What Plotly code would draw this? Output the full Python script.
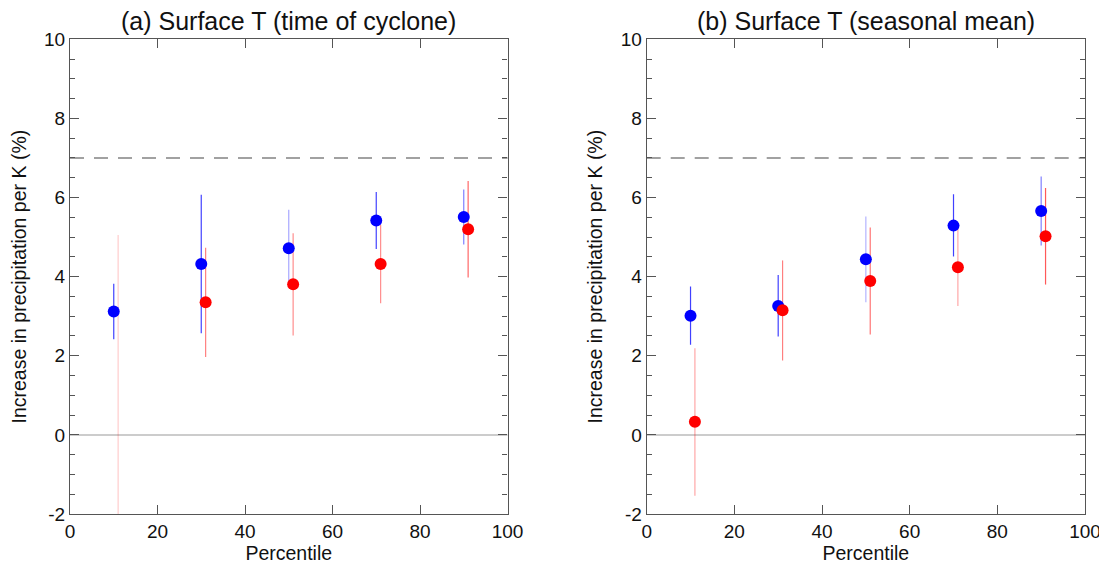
import plotly.graph_objects as go

# ---- data ----
percentiles = [10, 30, 50, 70, 90]
red_offset = 1

# panel (a): Surface T (time of cyclone)
a_blue = [3.12, 4.32, 4.72, 5.42, 5.51]
a_blue_lo = [2.42, 2.57, 3.75, 4.70, 4.81]
a_blue_hi = [3.82, 6.07, 5.69, 6.14, 6.20]
a_red = [-3.00, 3.35, 3.81, 4.32, 5.20]
a_red_lo = [-11.05, 1.97, 2.51, 3.33, 3.98]
a_red_hi = [5.05, 4.73, 5.10, 5.31, 6.42]

# panel (b): Surface T (seasonal mean)
b_blue = [3.01, 3.26, 4.44, 5.29, 5.66]
b_blue_lo = [2.28, 2.49, 3.35, 4.51, 4.79]
b_blue_hi = [3.75, 4.04, 5.52, 6.08, 6.53]
b_red = [0.33, 3.15, 3.89, 4.24, 5.02]
b_red_lo = [-1.54, 1.88, 2.54, 3.26, 3.80]
b_red_hi = [2.19, 4.41, 5.24, 5.22, 6.24]

titles = ["(a) Surface T (time of cyclone)", "(b) Surface T (seasonal mean)"]
x_title = "Percentile"
y_title = "Increase in precipitation per K (%)"
ref_line = 7.0
x_ticks = [0, 20, 40, 60, 80, 100]
y_ticks = [-2, 0, 2, 4, 6, 8, 10]

# per-point error-bar transparency (style)
a_blue_alpha = [0.75, 0.75, 0.35, 0.75, 0.5]
a_red_alpha = [0.2, 0.5, 0.45, 0.45, 0.6]
b_blue_alpha = [0.75, 0.75, 0.3, 0.75, 0.5]
b_red_alpha = [0.35, 0.5, 0.55, 0.35, 0.65]

FONT = "Liberation Sans, Arial, Helvetica, sans-serif"

# page is offset by the default 8px body margin
OFF = 8
W, H = 1107 - OFF, 564 - OFF


def px_x(p):
    return (p - OFF) / W


def px_y(p):
    return (H - (p - OFF)) / H


x_domains = [[px_x(70), px_x(507.5)], [px_x(646.7), px_x(1085)]]
y_domain = [px_y(514), px_y(39.3)]

fig = go.Figure()

panels = [
    (a_blue, a_blue_lo, a_blue_hi, a_red, a_red_lo, a_red_hi, a_blue_alpha, a_red_alpha),
    (b_blue, b_blue_lo, b_blue_hi, b_red, b_red_lo, b_red_hi, b_blue_alpha, b_red_alpha),
]

for i, (bv, blo, bhi, rv, rlo, rhi, balpha, ralpha) in enumerate(panels):
    xa = "x" if i == 0 else "x2"
    ya = "y" if i == 0 else "y2"
    for j, p in enumerate(percentiles):
        fig.add_trace(go.Scatter(
            x=[p], y=[bv[j]], mode="markers", xaxis=xa, yaxis=ya,
            marker=dict(size=0.1, color="rgba(0,0,0,0)"),
            error_y=dict(type="data", symmetric=False,
                         array=[bhi[j] - bv[j]], arrayminus=[bv[j] - blo[j]],
                         color=f"rgba(0,0,255,{balpha[j]})", thickness=1.2, width=0),
            showlegend=False, hoverinfo="skip", cliponaxis=True))
    for j, p in enumerate(percentiles):
        fig.add_trace(go.Scatter(
            x=[p + red_offset], y=[rv[j]], mode="markers", xaxis=xa, yaxis=ya,
            marker=dict(size=0.1, color="rgba(0,0,0,0)"),
            error_y=dict(type="data", symmetric=False,
                         array=[rhi[j] - rv[j]], arrayminus=[rv[j] - rlo[j]],
                         color=f"rgba(255,0,0,{ralpha[j]})", thickness=1.2, width=0),
            showlegend=False, hoverinfo="skip", cliponaxis=True))
    fig.add_trace(go.Scatter(
        x=percentiles, y=bv, mode="markers", xaxis=xa, yaxis=ya,
        marker=dict(size=12, color="#0000ff", line=dict(width=0)),
        showlegend=False, cliponaxis=True))
    fig.add_trace(go.Scatter(
        x=[p + red_offset for p in percentiles], y=rv, mode="markers", xaxis=xa, yaxis=ya,
        marker=dict(size=12, color="#ff0000", line=dict(width=0)),
        showlegend=False, cliponaxis=True))

axis_common = dict(
    showline=True, linecolor="#555555", linewidth=1.2, mirror="allticks",
    ticks="inside", ticklen=9, tickcolor="#555555", tickwidth=1.2,
    showgrid=False, zeroline=False, automargin=False,
    tickfont=dict(family=FONT, size=19, color="#111111"),
    title_font=dict(family=FONT, size=19.5, color="#111111"),
)

for i in range(2):
    sfx = "" if i == 0 else "2"
    fig.layout["xaxis" + sfx] = dict(
        axis_common, domain=x_domains[i], range=[0, 100],
        tickvals=x_ticks, ticktext=[str(v) for v in x_ticks],
        anchor="y" + sfx, title=dict(text=x_title, standoff=0),
    )
    fig.layout["yaxis" + sfx] = dict(
        axis_common, domain=y_domain, range=[-2, 10],
        tickvals=y_ticks, ticktext=[str(v) for v in y_ticks],
        anchor="x" + sfx, title=dict(text=y_title, standoff=12),
        minor=dict(ticks="inside", ticklen=5, dtick=0.5, tickcolor="#555555", tickwidth=1),
    )
    fig.add_shape(type="line", xref="x" + sfx + " domain", yref="y" + sfx,
                  x0=0, x1=1, y0=0, y1=0,
                  line=dict(color="#bbbbbb", width=1.5), layer="below")
    fig.add_shape(type="line", xref="x" + sfx + " domain", yref="y" + sfx,
                  x0=0, x1=1, y0=ref_line, y1=ref_line,
                  line=dict(color="#444444", width=1.2, dash="14px,10px"), layer="below")
    fig.add_annotation(text=titles[i], xref="paper", yref="paper",
                       x=sum(x_domains[i]) / 2, y=px_y(21.5),
                       xanchor="center", yanchor="middle", showarrow=False,
                       font=dict(family=FONT, size=25, color="#111111"))

fig.update_layout(
    width=W, height=H,
    margin=dict(l=0, r=0, t=0, b=0),
    paper_bgcolor="white", plot_bgcolor="white",
    font=dict(family=FONT),
)

fig.write_html("out.html")
